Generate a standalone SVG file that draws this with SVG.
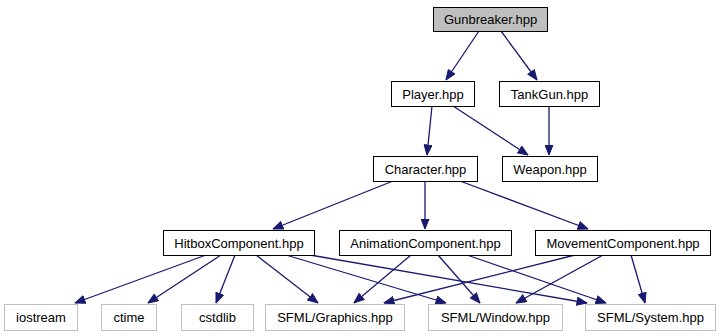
<svg xmlns="http://www.w3.org/2000/svg" width="721" height="336" viewBox="0 0 721 336">
  <style>
    .node rect { fill: #ffffff; stroke: #000000; stroke-width: 1; }
    .node.root rect { fill: #bfbfbf; }
    .node.ext rect { stroke: #bfbfbf; }
    .node text { font-family: "Liberation Sans", Arial, sans-serif; font-size: 13px; fill: #000000; text-anchor: middle; }
    #edges path { fill: none; stroke: #191970; stroke-width: 1.3; marker-end: url(#arrow); }
  </style>
  <defs>
    <marker id="arrow" markerUnits="userSpaceOnUse" markerWidth="11" markerHeight="9" refX="10.5" refY="4.5" orient="auto">
      <path d="M0.5,0.5 L10.5,4.5 L0.5,8.5 z" fill="#191970" stroke="#191970" stroke-width="1"/>
    </marker>
  </defs>
  <rect width="721" height="336" fill="#ffffff"/>

  <g id="edges">
    <path d="M479,31 L446,80"/>
    <path d="M501,31 L537,80"/>
    <path d="M432,106 L427,155"/>
    <path d="M453,106 L528,155"/>
    <path d="M549,106 L549,155"/>
    <path d="M393,181 L273,229"/>
    <path d="M425,181 L425,229"/>
    <path d="M460,181 L588,229"/>
    <path d="M206,255 L75,303"/>
    <path d="M221,255 L148,303"/>
    <path d="M235,255 L216,303"/>
    <path d="M256,255 L318,303"/>
    <path d="M286,255 L446,303"/>
    <path d="M310,255 L587,303"/>
    <path d="M411,255 L354,303"/>
    <path d="M438,255 L480,303"/>
    <path d="M467,255 L606,303"/>
    <path d="M575,255 L384,303"/>
    <path d="M603,255 L516,303"/>
    <path d="M631,255 L645,303"/>
  </g>

  <g id="gunbreaker" class="node root"><rect x="433.5" y="7.5" width="114" height="24"/><text x="490.5" y="24">Gunbreaker.hpp</text></g>
  <g id="player" class="node"><rect x="391.5" y="81.5" width="83" height="25"/><text x="433" y="98.5">Player.hpp</text></g>
  <g id="tankgun" class="node"><rect x="499.5" y="81.5" width="100" height="25"/><text x="549.5" y="98.5">TankGun.hpp</text></g>
  <g id="character" class="node"><rect x="373.5" y="156.5" width="104" height="25"/><text x="425.5" y="173.5">Character.hpp</text></g>
  <g id="weapon" class="node"><rect x="502.5" y="156.5" width="95" height="25"/><text x="550" y="173.5">Weapon.hpp</text></g>
  <g id="hitbox" class="node"><rect x="163.5" y="230.5" width="151" height="25"/><text x="239" y="247.5">HitboxComponent.hpp</text></g>
  <g id="animation" class="node"><rect x="339.5" y="230.5" width="172" height="25"/><text x="425.5" y="247.5">AnimationComponent.hpp</text></g>
  <g id="movement" class="node"><rect x="535.5" y="230.5" width="175" height="25"/><text x="623" y="247.5">MovementComponent.hpp</text></g>
  <g id="iostream" class="node ext"><rect x="4.5" y="304.5" width="73" height="26"/><text x="41" y="322">iostream</text></g>
  <g id="ctime" class="node ext"><rect x="101.5" y="304.5" width="55" height="26"/><text x="129" y="322">ctime</text></g>
  <g id="cstdlib" class="node ext"><rect x="181.5" y="304.5" width="72" height="26"/><text x="217.5" y="322">cstdlib</text></g>
  <g id="sfml-graphics" class="node ext"><rect x="265.5" y="304.5" width="139" height="26"/><text x="335" y="322">SFML/Graphics.hpp</text></g>
  <g id="sfml-window" class="node ext"><rect x="428.5" y="304.5" width="134" height="26"/><text x="495.5" y="322">SFML/Window.hpp</text></g>
  <g id="sfml-system" class="node ext"><rect x="585.5" y="304.5" width="130" height="26"/><text x="650.5" y="322">SFML/System.hpp</text></g>
</svg>
